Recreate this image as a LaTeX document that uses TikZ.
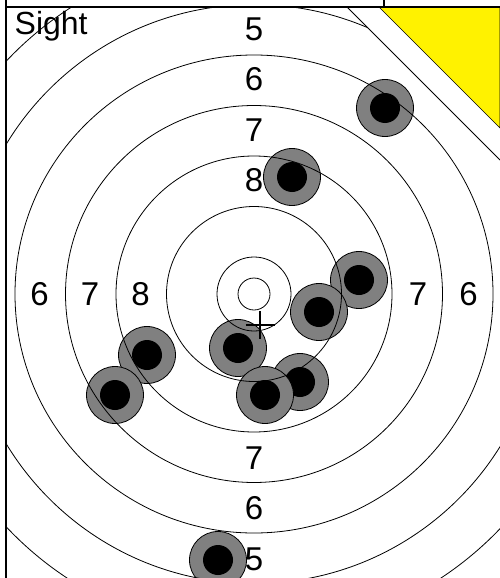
\documentclass[tikz,border=0pt]{standalone}
\usepackage{fontspec}
\setmainfont{Liberation Sans}
\begin{document}
\begin{tikzpicture}[x=1pt, y=-1pt,
    ring/.style={draw=black, line width=0.8pt},
    shot/.style={draw=black, fill=gray, line width=0.8pt},
    hole/.style={fill=black},
    score/.style={font=\fontsize{33}{38}\selectfont, inner sep=0pt},
    frame/.style={draw=black, line width=1.6pt},
    mask/.style={fill=yellow, draw=black, line width=0.6pt}]
    \useasboundingbox (0,0) rectangle (500,578);
    \coordinate (centre) at (254,294);
    \node [score, anchor=base west, font=\fontsize{32}{36}\selectfont] (sight) at (14.5,35) {Sight};
    \foreach \v/\d in {5/265, 6/214.5, 7/164, 8/113.5}
        \node [score] (up\v) at (254,{294-\d}) {\v};
    \foreach \v/\d in {7/164, 6/214.5, 5/265}
        \node [score] (down\v) at (254,{294+\d}) {\v};
    \foreach \v/\d in {6/214.5, 7/164, 8/113.5}
        \node [score] (left\v) at ({254-\d},294) {\v};
    \foreach \v/\d in {7/164, 6/214.5}
        \node [score] (right\v) at ({254+\d},294) {\v};
    \foreach \sx/\sy in {385/108, 292/177, 359/280, 319/312, 238/348, 147/355, 115/395, 300/382, 265/395, 218/560} {
        \filldraw [shot] (\sx,\sy) circle [radius=28.5];
        \fill [hole] (\sx,\sy) circle [radius=15];
    }
    \begin{scope}
        \clip (7,7) -- (347,7) -- (500,160) -- (500,578) -- (7,578) -- cycle;
        \foreach \r in {16, 37, 87.5, 138, 188.5, 239, 289.5, 340}
            \draw [ring] (centre) circle [radius=\r];
    \end{scope}
    \coordinate (aim) at (260,325);
    \draw [line width=1.2pt] ([xshift=-14.5pt]aim) -- ([xshift=14.5pt]aim);
    \draw [line width=1.2pt] ([yshift=14pt]aim) -- ([yshift=-14pt]aim);
    \path [mask] (379,7) -- (500,128) -- (500,7) -- cycle;
    \draw [ring] (347,7) -- (500,160);
    \draw [frame] (6,0) -- (6,578);
    \draw [frame] (6,7) -- (500,7);
    \draw [frame] (384,0) -- (384,7);
\end{tikzpicture}
\end{document}
